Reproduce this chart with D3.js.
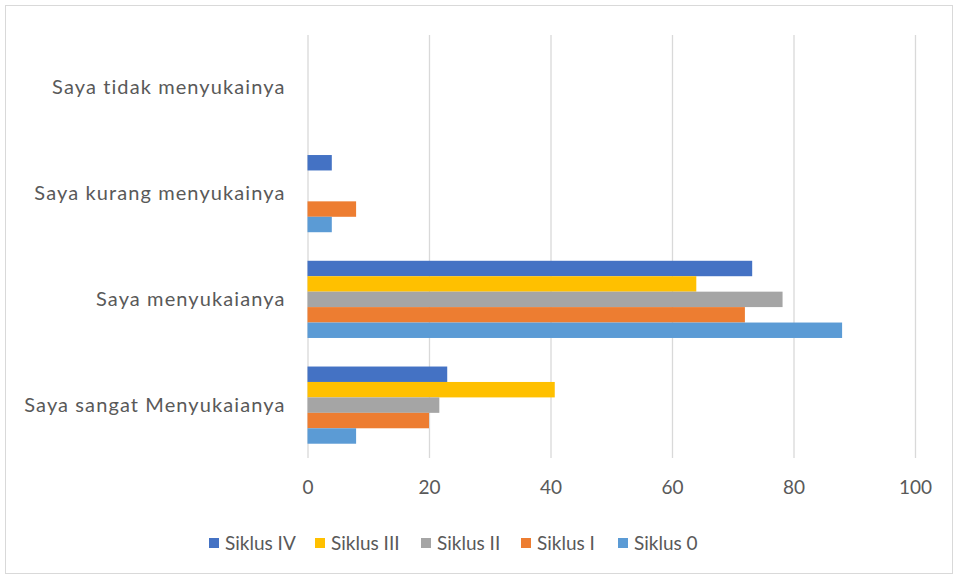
<!DOCTYPE html>
<html>
<head>
<meta charset="utf-8">
<script src="https://cdn.jsdelivr.net/npm/d3@7"></script>
<style>
  body { margin: 0; background: #fff; }
  svg text { font-family: Lato, "Open Sans", sans-serif; fill: #595959; }
</style>
</head>
<body>
<div id="chart"></div>
<script>
// ── data ──────────────────────────────────────────────
const categories = ["Saya tidak menyukainya", "Saya kurang menyukainya", "Saya menyukaianya", "Saya sangat Menyukaianya"];
const seriesNames = ["Siklus IV", "Siklus III", "Siklus II", "Siklus I", "Siklus 0"];
const siklusIV  = [0, 4, 73.2, 23];
const siklusIII = [0, 0, 64, 40.7];
const siklusII  = [0, 0, 78.2, 21.7];
const siklusI   = [0, 8, 72, 20];
const siklus0   = [0, 4, 88, 8];
const xTicks    = [0, 20, 40, 60, 80, 100];

const colours = ["#4472C4", "#FFC000", "#A5A5A5", "#ED7D31", "#5B9BD5"];
const seriesValues = [siklusIV, siklusIII, siklusII, siklusI, siklus0];

const W = 958, H = 579;
const M = { top: 35, right: 43, bottom: 121, left: 307.5 };
const iW = W - M.left - M.right;
const iH = H - M.top - M.bottom;

const svg = d3.select("#chart").append("svg").attr("width", W).attr("height", H);

// chart border
svg.append("rect")
  .attr("x", 5.5).attr("y", 5.5).attr("width", W - 11).attr("height", H - 11)
  .attr("fill", "#fff").attr("stroke", "#d9d9d9").attr("stroke-width", 1);

const g = svg.append("g").attr("transform", `translate(${M.left},${M.top})`);

const x = d3.scaleLinear().domain([0, 100]).range([0, iW]);
const y = d3.scaleBand().domain(categories).range([0, iH]).paddingInner(0.27).paddingOuter(0.135);
const ySub = d3.scaleBand().domain(seriesNames).range([0, y.bandwidth()]);

// grid
g.append("g")
  .call(d3.axisBottom(x).tickValues(xTicks).tickSize(iH).tickFormat(""))
  .call(ax => ax.select(".domain").remove())
  .call(ax => ax.selectAll("line").attr("stroke", "#d9d9d9").attr("stroke-width", 1.3));

// x tick labels
g.append("g").attr("transform", `translate(0,${iH})`)
  .call(d3.axisBottom(x).tickValues(xTicks).tickSize(0).tickPadding(23).tickFormat(d3.format("d")))
  .call(ax => ax.select(".domain").remove())
  .call(ax => ax.selectAll("text").attr("font-size", 19).style("fill", "#595959"));

// category labels
g.append("g")
  .call(d3.axisLeft(y).tickSize(0).tickPadding(22))
  .call(ax => ax.select(".domain").remove())
  .call(ax => ax.selectAll("text").attr("font-size", 20).attr("letter-spacing", 1.1).style("fill", "#595959"));

// bars
seriesNames.forEach((s, si) => {
  g.selectAll(".bar" + si).data(categories).join("rect")
    .attr("class", "bar" + si)
    .attr("x", x(0))
    .attr("y", c => y(c) + ySub(s))
    .attr("width", (c, i) => x(seriesValues[si][i]) - x(0))
    .attr("height", ySub.bandwidth())
    .attr("fill", colours[si]);
});

// legend
const legendX = [209, 315, 421, 521, 618];
const lg = svg.append("g").attr("transform", "translate(0,543)");
seriesNames.forEach((s, i) => {
  lg.append("rect").attr("x", legendX[i]).attr("y", -5).attr("width", 10).attr("height", 10).attr("fill", colours[i]);
  lg.append("text").attr("x", legendX[i] + 16).attr("y", 0).attr("dy", "0.35em")
    .attr("font-size", 19).text(s);
});
</script>
</body>
</html>
